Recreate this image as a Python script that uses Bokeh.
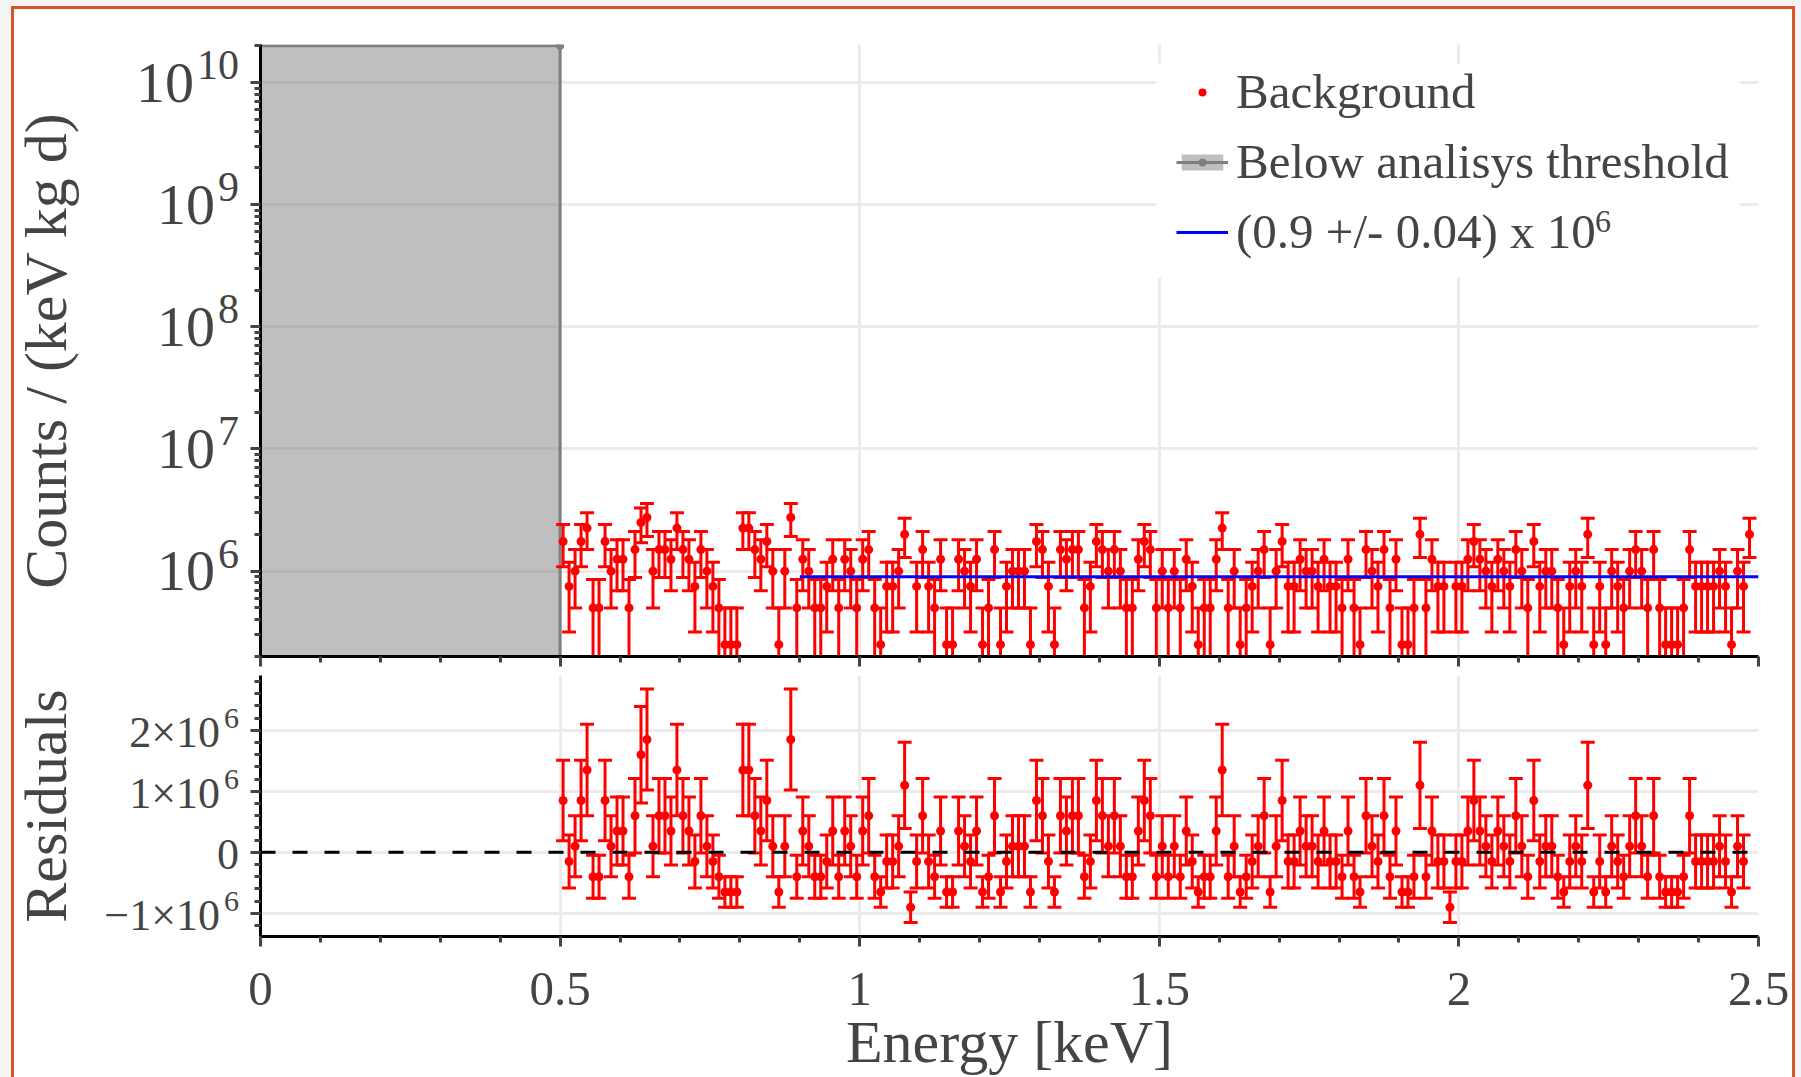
import numpy as np
from bokeh.plotting import figure
from bokeh.models import (Range1d, FixedTicker, Legend, LegendItem, Label,
                          CustomLabelingPolicy)
from bokeh.layouts import column, row
from bokeh.embed import file_html
from bokeh.resources import INLINE

FONT = "Liberation Serif"
TXT = "#444444"

# ---------------- data (rates in units of 1e6 counts/(keV kg d)) ----------------
rate = [
    1.75, 0.75, 1.0, 1.75, 2.25, 0.5, 0.5, 1.75, 1.0, 1.25,
    1.25, 0.5, 1.5, 2.5, 2.75, 1.0, 1.5, 1.5, 1.25, 2.25,
    1.5, 1.25, 0.75, 1.5, 1.0, 0.75, 0.5, 0.25, 0.25, 0.25,
    2.25, 2.25, 1.5, 1.25, 1.75, 1.0, 0.25, 1.0, 2.75, 0.5,
    1.25, 1.0, 0.5, 0.5, 0.75, 1.25, 0.5, 1.25, 1.0, 0.5,
    1.25, 1.5, 0.5, 0.25, 0.75, 0.75, 1.0, 2.0, 0.0, 0.75,
    1.5, 0.75, 0.5, 1.25, 0.25, 0.25, 1.25, 1.0, 0.75, 1.25,
    0.25, 0.5, 1.5, 0.25, 0.75, 1.0, 1.0, 1.0, 0.25, 1.75,
    1.5, 0.75, 0.25, 1.5, 1.25, 1.5, 1.5, 0.5, 0.75, 1.75,
    1.5, 1.0, 1.5, 1.0, 0.5, 0.5, 1.25, 1.75, 1.5, 0.5,
    1.0, 0.5, 1.0, 0.5, 1.25, 0.75, 0.25, 0.5, 0.5, 1.25,
    2.25, 0.5, 1.0, 0.25, 0.5, 0.75, 1.0, 1.5, 0.25, 1.0,
    1.75, 0.75, 0.75, 1.25, 1.0, 1.0, 0.75, 1.25, 0.75, 0.75,
    0.5, 1.25, 0.5, 0.25, 1.5, 1.0, 0.75, 1.5, 0.5, 1.25,
    0.25, 0.25, 0.5, 2.0, 0.5, 1.25, 0.75, 0.75, 0.0, 0.75,
    0.75, 1.25, 1.75, 1.25, 1.0, 0.75, 1.25, 1.0, 0.75, 1.5,
    1.0, 0.5, 1.75, 0.75, 1.0, 1.0, 0.5, 0.25, 0.75, 1.0,
    0.75, 2.0, 0.25, 0.75, 0.25, 1.0, 0.75, 0.5, 1.0, 1.5,
    1.0, 0.5, 1.5, 0.5, 0.25, 0.25, 0.25, 0.5, 1.5, 0.75,
    0.75, 0.75, 0.75, 1.0, 0.75, 0.25, 1.0, 0.75, 2.0,
]
bin_start = 0.505
bin_width = 0.01
energy = [round(bin_start + bin_width * i, 3) for i in range(len(rate))]
# Poisson error: one count = 0.25e6
rate_err = [0.5 * np.sqrt(r) if r > 0 else 0.25 for r in rate]

scale = 1e6
fit_value = 0.9
fit_range = [0.9, 2.5]
threshold_x = [0.0, 0.5]
threshold_level = 2e10
n_residual = len(rate) - 1   # residual panel stops one bin earlier

x_ticks = [0, 0.5, 1, 1.5, 2, 2.5]
x_tick_labels = ["0", "0.5", "1", "1.5", "2", "2.5"]
x_minor = [round(0.1 * k, 1) for k in range(26) if k % 5]
log_ticks = [1e6, 1e7, 1e8, 1e9, 1e10]
log_exps = ["6", "7", "8", "9", "10"]
log_minor = [k * 10.0 ** d for d in range(5, 11) for k in range(2, 10)]
res_ticks = [-1e6, 0, 1e6, 2e6]
res_bases = ["\u22121\u00d710", "0", "1\u00d710", "2\u00d710"]
res_exps = ["6", "", "6", "6"]
res_minor = [round(v * 0.2, 1) * 1e6 for v in range(-7, 15) if v % 5]

RED = "#ff0000"

# ---------------- geometry (pixels) ----------------
X0 = 16.5            # left edge of the content inside the frame border
Y0 = 9               # top edge of the content
GUT_W = 226          # width of the gutter holding the y labels
AX_W = 20            # border of the main plots holding the y ticks
FRAME_W = 1498
RIGHT_W = 34
TOP_Y = (2e5, 2.05e10)
RES_Y = (-1.38e6, 2.9e6)
TOP_H, RES_H = 612, 261
TOP_B = (35, 15)     # top/bottom borders of the upper panel
RES_B = (4, 14)      # top/bottom borders of the residual panel
DEC_PX = TOP_H / np.log10(TOP_Y[1] / TOP_Y[0])     # pixels per decade
RES_PX = RES_H / (RES_Y[1] - RES_Y[0])             # pixels per unit
LABEL_RIGHT = 241 - X0   # right edge of y tick labels, in gutter pixels
FRAME_LEFT = X0 + GUT_W + AX_W
TOP_BOTTOM_PX = Y0 + TOP_B[0] + TOP_H


def top_x(px):
    return (px - FRAME_LEFT) / FRAME_W * 2.5


def top_y(py):
    return TOP_Y[0] * 10 ** ((TOP_BOTTOM_PX - py) / DEC_PX)


def hide_labels():
    return CustomLabelingPolicy(code="for (const i of indices) indices.unset(i); return indices")


def style_axis(ax):
    ax.axis_line_color = "black"
    ax.axis_line_width = 3
    ax.major_tick_line_color = TXT
    ax.major_tick_line_width = 3
    ax.minor_tick_line_color = TXT
    ax.minor_tick_line_width = 3
    ax.major_tick_in = 0
    ax.major_tick_out = 10
    ax.minor_tick_in = 0
    ax.minor_tick_out = 6
    ax.major_label_text_font = FONT
    ax.major_label_text_font_size = "1px"
    ax.major_label_standoff = 0
    ax.major_label_policy = hide_labels()


def style_grid(p):
    for g in (p.xgrid[0], p.ygrid[0]):
        g.grid_line_color = "#ebebeb"
        g.grid_line_width = 3


def text(p, x, y, s, size, align="right", angle=0.0, level="annotation"):
    p.add_layout(Label(x=x, y=y, text=s, angle=angle, level=level,
                       text_font=FONT, text_font_size=size, text_color=TXT,
                       text_align=align, text_baseline="middle"))


def gutter(y_range, frame_h, borders, log=False):
    g = figure(frame_width=GUT_W, frame_height=frame_h,
               x_range=Range1d(0, GUT_W), y_range=y_range,
               y_axis_type="log" if log else "linear",
               x_axis_location=None, y_axis_location=None,
               output_backend="svg", toolbar_location=None,
               min_border_left=0, min_border_right=0,
               min_border_top=borders[0], min_border_bottom=borders[1],
               outline_line_color=None, background_fill_color="white",
               border_fill_color="white")
    g.grid.visible = False
    return g


# ---------------- top panel ----------------
top = figure(frame_width=FRAME_W, frame_height=TOP_H,
             x_range=Range1d(0, 2.5), y_range=Range1d(*TOP_Y),
             y_axis_type="log", output_backend="svg", toolbar_location=None,
             min_border_left=AX_W, min_border_right=RIGHT_W,
             min_border_top=TOP_B[0], min_border_bottom=TOP_B[1],
             outline_line_color=None,
             background_fill_color="white", border_fill_color="white")
style_grid(top)
top.xaxis.ticker = FixedTicker(ticks=x_ticks, minor_ticks=x_minor)
top.yaxis.ticker = FixedTicker(ticks=log_ticks, minor_ticks=log_minor)
style_axis(top.xaxis[0])
style_axis(top.yaxis[0])

gtop = gutter(top.y_range, TOP_H, TOP_B, log=True)
for t, e in zip(log_ticks, log_exps):
    w = 21 * len(e)
    text(gtop, LABEL_RIGHT - w - 3, t, "10", "58px")
    text(gtop, LABEL_RIGHT, t * 10 ** (17.5 / DEC_PX), e, "42px")
text(gtop, 48 - X0, np.sqrt(TOP_Y[0] * TOP_Y[1]), "Counts / (keV kg d)", "60px",
     align="center", angle=np.pi / 2)

# white backing of the legend (legend itself is transparent so that the
# superscript drawn on it stays visible)
LEG_BOX = (1158.5, 1741.5, 63, 277)     # left, right, top, bottom in pixels
top.quad(left=[top_x(LEG_BOX[0])], right=[top_x(LEG_BOX[1])],
         top=[top_y(LEG_BOX[2])], bottom=[top_y(LEG_BOX[3])],
         fill_color="white", line_color=None)

# threshold region
band = top.quad(left=[threshold_x[0]], right=[threshold_x[1]], bottom=[1e4],
                top=[threshold_level], fill_color="#7f7f7f", fill_alpha=0.5,
                line_color=None)
gline = top.line(x=[threshold_x[0], threshold_x[1], threshold_x[1]],
                 y=[threshold_level, threshold_level, 1e4],
                 line_color="#7f7f7f", line_width=3)
gdot = top.scatter(x=[threshold_x[1]], y=[threshold_level], size=8,
                   marker="circle", fill_color="#7f7f7f", line_color=None)

tx, ty, tlo, thi = [], [], [], []
for e, r, s in zip(energy, rate, rate_err):
    if r <= 0:
        continue
    tx.append(e)
    ty.append(r * scale)
    lo = (r - s) * scale
    tlo.append(lo if lo > 0 else 1e4)
    thi.append((r + s) * scale)

top.segment(x0=tx, y0=tlo, x1=tx, y1=thi, line_color=RED, line_width=3)
top.scatter(x=tx, y=tlo, marker="dash", size=14, line_color=RED, line_width=3)
top.scatter(x=tx, y=thi, marker="dash", size=14, line_color=RED, line_width=3)
bg = top.scatter(x=tx, y=ty, marker="circle", size=9, fill_color=RED, line_color=None)

fit = top.line(x=fit_range, y=[fit_value * scale] * 2, line_color="#0000ff", line_width=3)

legend = Legend(items=[
    LegendItem(label="Background", renderers=[bg]),
    LegendItem(label="Below analisys threshold", renderers=[band, gline, gdot]),
    LegendItem(label="(0.9 +/- 0.04) x 10", renderers=[fit]),
], location="top_right", margin=19, padding=10, spacing=13,
    label_text_font=FONT, label_text_font_size="49px", label_text_color=TXT,
    glyph_width=52, glyph_height=20, label_standoff=8, label_width=503,
    border_line_color=None, background_fill_alpha=0.0)
top.add_layout(legend)
# superscript of the legend's last entry
text(top, top_x(1597), top_y(221), "6", "32px", align="left", level="overlay")

# ---------------- residual panel ----------------
res = figure(frame_width=FRAME_W, frame_height=RES_H,
             x_range=top.x_range, y_range=Range1d(*RES_Y),
             output_backend="svg", toolbar_location=None,
             min_border_left=AX_W, min_border_right=RIGHT_W,
             min_border_top=RES_B[0], min_border_bottom=RES_B[1],
             outline_line_color=None,
             background_fill_color="white", border_fill_color="white")
style_grid(res)
res.xaxis.ticker = FixedTicker(ticks=x_ticks, minor_ticks=x_minor)
res.yaxis.ticker = FixedTicker(ticks=res_ticks, minor_ticks=res_minor)
style_axis(res.xaxis[0])
style_axis(res.yaxis[0])

gres = gutter(res.y_range, RES_H, RES_B)
for t, b, e in zip(res_ticks, res_bases, res_exps):
    w = 15 * len(e) + (4 if e else 0)
    text(gres, LABEL_RIGHT - w, t - 2 / RES_PX, b, "44px")
    if e:
        text(gres, LABEL_RIGHT, t + 12 / RES_PX, e, "30px")
text(gres, 48 - X0, (RES_Y[0] + RES_Y[1]) / 2, "Residuals", "60px",
     align="center", angle=np.pi / 2)

rx = energy[:n_residual]
rv = [(r - fit_value) * scale for r in rate[:n_residual]]
rs = [s * scale for s in rate_err[:n_residual]]
rlo = [v - s for v, s in zip(rv, rs)]
rhi = [v + s for v, s in zip(rv, rs)]
res.segment(x0=rx, y0=rlo, x1=rx, y1=rhi, line_color=RED, line_width=3)
res.scatter(x=rx, y=rlo, marker="dash", size=14, line_color=RED, line_width=3)
res.scatter(x=rx, y=rhi, marker="dash", size=14, line_color=RED, line_width=3)
res.scatter(x=rx, y=rv, marker="circle", size=9, fill_color=RED, line_color=None)
res.line(x=[0, 2.5], y=[0, 0], line_color="black", line_width=3, line_dash="15 17")

# ---------------- x tick labels and axis title strip ----------------
full_w = GUT_W + AX_W + FRAME_W + RIGHT_W
y_top_strip = Y0 + sum(TOP_B) + TOP_H + sum(RES_B) + RES_H
strip_h = 1077 - y_top_strip
xlab = figure(frame_width=full_w, frame_height=strip_h,
              x_range=Range1d(X0, X0 + full_w), y_range=Range1d(1077, y_top_strip),
              x_axis_location=None, y_axis_location=None,
              output_backend="svg", toolbar_location=None,
              min_border=0, outline_line_color=None,
              background_fill_color="white", border_fill_color="white")
xlab.grid.visible = False
for v, s in zip(x_ticks, x_tick_labels):
    text(xlab, FRAME_LEFT + v / 2.5 * FRAME_W, 988, s, "49px", align="center")
text(xlab, FRAME_LEFT + FRAME_W / 2, 1041, "Energy [keV]", "60px", align="center")

inner = column(row(gtop, top), row(gres, res), xlab, margin=(6, 0, 0, 11),
               styles={"border-left": "3px solid #d9532c",
                       "border-right": "3px solid #d9532c",
                       "border-top": "3px solid #d9532c",
                       "background-color": "white"})
outer = column(inner, width=1801, height=1077,
               styles={"background-color": "#f4f4f4"})

open("out.html", "w").write(file_html(outer, INLINE))
